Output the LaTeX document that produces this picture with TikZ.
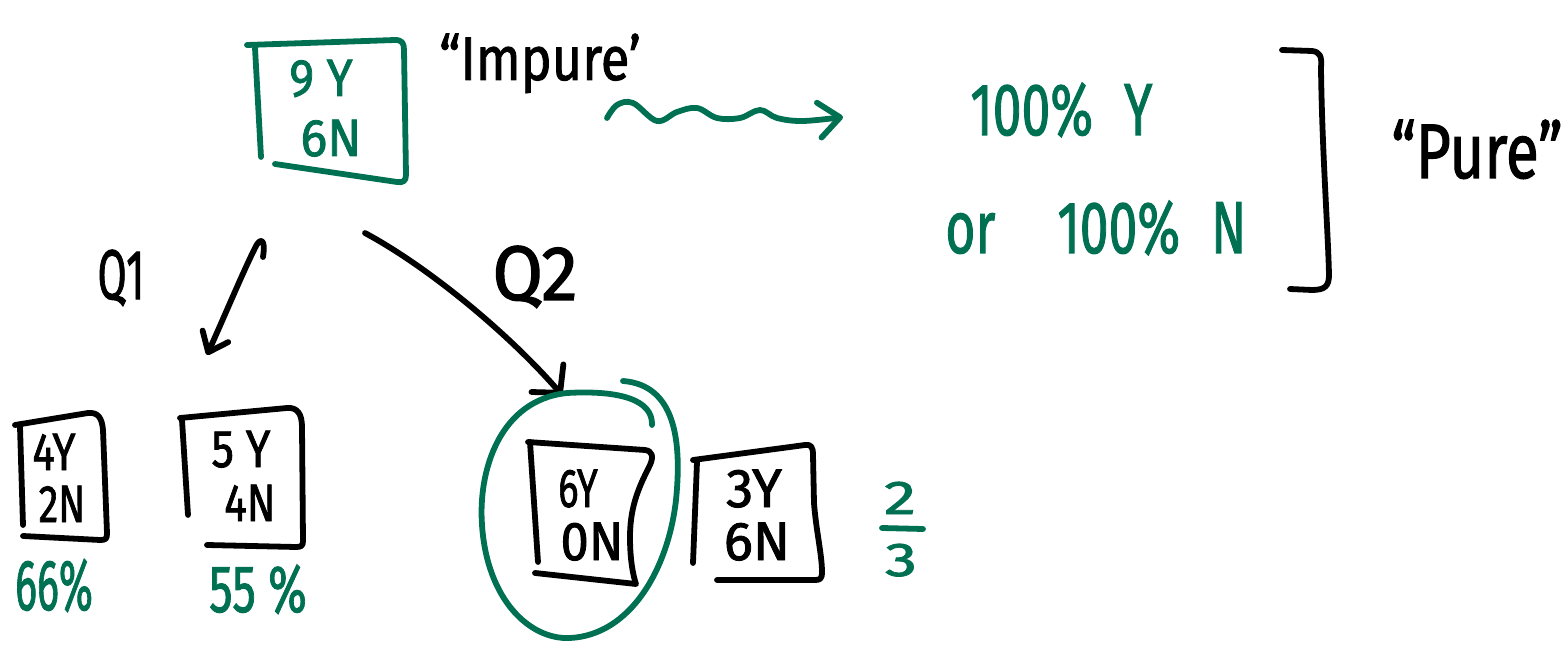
\documentclass[tikz,border=0pt]{standalone}
\usepackage{fontspec}
\setmainfont{Fira Sans}[FakeBold=1.6]
\usepackage{graphicx}
\usetikzlibrary{arrows.meta}
\definecolor{hgreen}{RGB}{0,112,82}
\newcommand\hwsq[2]{\scalebox{#1}[1]{#2}}
\begin{document}
\begin{tikzpicture}[x=0.02cm,y=-0.02cm,
  pen/.style={line width=3.3pt,line cap=round,line join=round},
  gpen/.style={pen,draw=hgreen},
  bpen/.style={pen,draw=black},
  lbl/.style={inner sep=0pt,anchor=base,font=\fontsize{#1pt}{#1pt}\selectfont},
  glbl/.style={lbl=#1,text=hgreen},
  blbl/.style={lbl=#1,text=black},
  barb/.style={-{Straight Barb[round,#1]}}
]
\useasboundingbox (0,0) rectangle (1566,645);

% ---------- top impure box ----------
\draw[gpen] (255,48) -- (261,157);
\draw[gpen] (247,45) -- (395,40) .. controls (402,40) and (404,43) .. (404,50) -- (406,175) .. controls (406,181) and (403,183) .. (397,182) -- (275,164);
\node[glbl=30] (t1) at (321,96) {\hwsq{0.9}{9 Y}};
\node[glbl=30] (t2) at (331,156) {\hwsq{0.95}{6N}};
\node[blbl=35] (impure) at (540,80) {\hwsq{0.85}{“Impure’}};

% ---------- wavy arrow ----------
\coordinate (wS) at (607,118);
\coordinate (wE) at (843,117);
\draw[gpen,barb={length=12pt,width=20pt}] plot[smooth,tension=0.6] coordinates {(wS) (617,105) (633,103) (657,121) (677,112) (697,108) (717,118) (740,118) (760,110) (777,118) (803,121) (wE)};

% ---------- pure side ----------
\node[glbl=42,anchor=base west] (py) at (970,135) {\hwsq{0.7}{100\%\hspace{0.6em}Y}};
\node[glbl=42,anchor=base west] (pn) at (945,253) {\hwsq{0.7}{or\hspace{1.2em}100\%\hspace{0.6em}N}};
\coordinate (brT) at (1282,50);
\coordinate (brB) at (1290,289);
\draw[bpen] (brT) -- (1312,51) .. controls (1320,52) and (1322,56) .. (1321,68) .. controls (1322,150) and (1328,230) .. (1329,275) .. controls (1329,286) and (1325,290) .. (1312,290) -- (brB);
\node[blbl=44] (pure) at (1477,178) {\hwsq{0.78}{“Pure”}};

% ---------- questions ----------
\node[blbl=40] (q1) at (121,299) {\hwsq{0.6}{Q1}};
\node[blbl=44] (q2) at (535,300) {\hwsq{0.95}{Q2}};
\coordinate (q1a) at (263,257);
\coordinate (q1b) at (207,355);
\draw[bpen,barb={length=10pt,width=16pt}] (q1a) .. controls (266,238) and (260,237) .. (255,248) .. controls (243,272) and (225,315) .. (q1b);
\coordinate (q2a) at (365,233);
\coordinate (q2b) at (562,395);
\draw[bpen,barb={length=11pt,width=24pt}] (q2a) .. controls (430,268) and (510,335) .. (q2b);

% ---------- box 4Y 2N ----------
\draw[bpen] (20,427) -- (23,525);
\draw[bpen] (15,425) -- (88,413) .. controls (98,412) and (102,418) .. (103,430) -- (107,533) .. controls (107,539) and (106,540) .. (100,540) -- (23,536);
\node[blbl=30] (a1) at (54,470) {\hwsq{0.8}{4Y}};
\node[blbl=30] (a2) at (62,522) {\hwsq{0.75}{2N}};
\node[glbl=41] (a3) at (54,610) {\hwsq{0.57}{66\%}};

% ---------- box 5Y 4N ----------
\draw[bpen] (182,420) -- (188,515);
\draw[bpen] (180,418) -- (287,408) .. controls (298,407) and (302,415) .. (302,427) -- (303,541) .. controls (303,546) and (301,547) .. (296,547) -- (207,545);
\node[blbl=30] (b1) at (241,467) {\hwsq{0.85}{5 Y}};
\node[blbl=30] (b2) at (250,521) {\hwsq{0.8}{4N}};
\node[glbl=38] (b3) at (258,612) {\hwsq{0.7}{55 \%}};

% ---------- box 6Y 0N ----------
\draw[bpen] (530,442) -- (538,562);
\draw[bpen] (528,442) -- (645,450) .. controls (652,451) and (654,456) .. (650,465) .. controls (640,485) and (630,505) .. (630,537) .. controls (630,560) and (633,575) .. (636,584) -- (535,573);
\node[blbl=31] (c1) at (578,507) {\hwsq{0.7}{6Y}};
\node[blbl=31] (c2) at (592,560) {\hwsq{0.93}{0N}};

% ---------- box 3Y 6N ----------
\draw[bpen] (697,462) -- (693,563);
\draw[bpen] (693,460) -- (805,445) .. controls (811,444) and (813,447) .. (813,455) -- (814,503) .. controls (816,530) and (822,555) .. (822,572) .. controls (822,579) and (820,580) .. (815,580) -- (717,580);
\node[blbl=31] (d1) at (754,507) {3Y};
\node[blbl=31] (d2) at (757,560) {6N};

% ---------- fraction ----------
\node[glbl=27] (f1) at (900,514) {\hwsq{1.35}{2}};
\draw[gpen] (882,528) -- (923,529);
\node[glbl=27] (f2) at (901,576) {\hwsq{1.35}{3}};

% ---------- loop round the pure split ----------
\draw[gpen] (652,425) .. controls (653,400) and (620,390) .. (567,393) .. controls (500,400) and (478,470) .. (482,525) .. controls (487,600) and (530,640) .. (570,638) .. controls (630,635) and (668,570) .. (676,500) .. controls (682,440) and (675,385) .. (623,381);
\end{tikzpicture}
\end{document}
